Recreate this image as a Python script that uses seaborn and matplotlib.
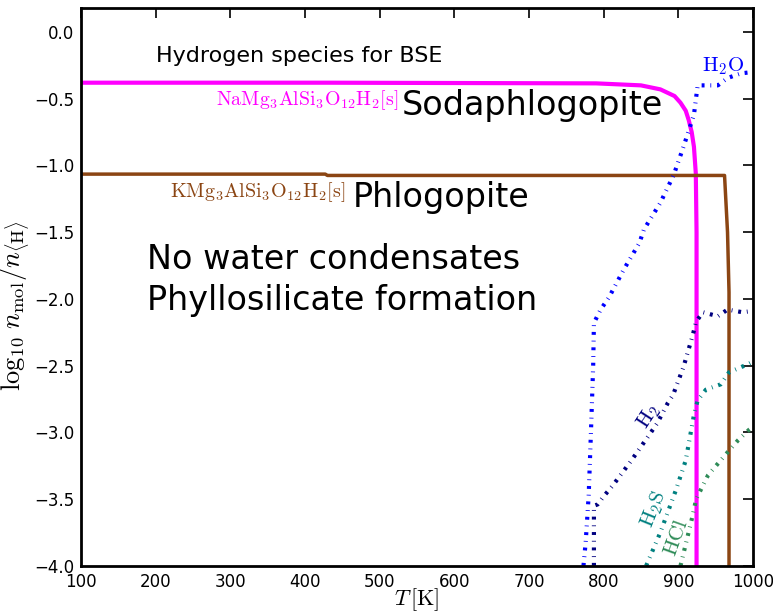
import matplotlib
matplotlib.use("Agg")
import matplotlib.pyplot as plt
import seaborn as sns
import pandas as pd

# Condensed phyllosilicates (solid lines)
T_soda = [100, 430, 790, 850, 876, 895, 903, 910, 914, 918, 921, 923.5, 924.5, 924.5]
n_soda = [-0.38, -0.38, -0.385, -0.40, -0.43, -0.48, -0.53, -0.59, -0.66, -0.75, -0.86, -1.06, -1.5, -4.0]

T_phlog = [100, 427, 430, 962, 966, 968, 968]
n_phlog = [-1.065, -1.065, -1.075, -1.075, -1.5, -1.95, -4.0]

# Gas-phase hydrogen carriers (dotted lines)
T_h2o = [773, 776, 780, 783, 786, 787, 796, 807, 827, 848, 854, 876, 894, 907, 921, 926, 953, 966, 984, 1000]
n_h2o = [-4.0, -3.82, -3.47, -3.0, -2.5, -2.18, -2.08, -1.99, -1.78, -1.58, -1.48, -1.28, -1.07, -0.86, -0.62,
         -0.40, -0.40, -0.345, -0.31, -0.30]

T_h2 = [787, 787, 792, 800, 812, 836, 861, 872, 886, 893, 907, 919, 924, 933, 953, 966, 986, 1000]
n_h2 = [-4.0, -3.55, -3.54, -3.48, -3.40, -3.22, -3.02, -2.93, -2.78, -2.72, -2.51, -2.28, -2.17, -2.10,
        -2.13, -2.08, -2.10, -2.09]

T_h2s = [857, 876, 897, 910, 921, 926, 937, 957, 968, 993, 1000]
n_h2s = [-4.0, -3.75, -3.43, -3.21, -2.87, -2.76, -2.68, -2.64, -2.55, -2.49, -2.47]

T_hcl = [903, 919, 924, 940, 966, 980, 995, 1000]
n_hcl = [-4.0, -3.63, -3.5, -3.32, -3.15, -3.06, -2.98, -2.96]

x_ticks = [100, 200, 300, 400, 500, 600, 700, 800, 900, 1000]
y_ticks = [0.0, -0.5, -1.0, -1.5, -2.0, -2.5, -3.0, -3.5, -4.0]

sns.set_theme(style="white")
plt.rcParams["font.family"] = ["DejaVu Sans"]
plt.rcParams["mathtext.fontset"] = "cm"
plt.rcParams["text.color"] = "black"
plt.rcParams["axes.labelcolor"] = "black"

fig = plt.figure(figsize=(7.73, 6.13), dpi=100)
ax = fig.add_axes([0.105, 0.077, 0.869, 0.910])

dotted = (0, (0.7, 1.4, 0.2, 1.4))


def draw(T, n, color, lw, ls="-"):
    df = pd.DataFrame({"T": T, "n": n})
    sns.lineplot(data=df, x="T", y="n", ax=ax, color=color, lw=lw, linestyle=ls,
                 estimator=None, sort=False)


draw(T_soda, n_soda, "#ff00ff", 3.0)
draw(T_phlog, n_phlog, "#8b4513", 2.5)
draw(T_h2o, n_h2o, "#0000ff", 3.0, dotted)
draw(T_h2, n_h2, "#000080", 3.0, dotted)
draw(T_h2s, n_h2s, "#008080", 3.0, dotted)
draw(T_hcl, n_hcl, "#2e8b57", 3.0, dotted)

ax.set_xlim(100, 1000)
ax.set_ylim(-4.0, 0.18)
ax.set_xticks(x_ticks)
ax.set_yticks(y_ticks)
ax.set_xticklabels([str(t) for t in x_ticks])
ax.set_yticklabels([f"{t:.1f}".replace("-", "\u2212") for t in y_ticks])
ax.tick_params(direction="in", length=7.5, width=1.2, top=True, right=True,
               labelsize=12, colors="black", pad=5)
for sp in ax.spines.values():
    sp.set_linewidth(2.0)
    sp.set_color("black")

ax.set_xlabel(r"$T\,[\mathrm{K}]$", fontsize=16, labelpad=-3)
ax.set_ylabel(r"$\log_{10}\,n_{\rm mol}/n_{\langle{\rm H}\rangle}$", fontsize=19)
ax.yaxis.set_label_coords(-0.072, 0.466)

# Annotations
ax.text(200, -0.222, "Hydrogen species for BSE", fontsize=16, va="baseline", ha="left")
ax.text(525, -0.547, r"$\mathrm{NaMg_3AlSi_3O_{12}H_2[s]}$", color="#ff00ff", fontsize=14.3,
        ha="right", va="baseline")
ax.text(529, -0.62, "Sodaphlogopite", fontsize=24, va="baseline", ha="left")
ax.text(454, -1.234, r"$\mathrm{KMg_3AlSi_3O_{12}H_2[s]}$", color="#8b4513", fontsize=14.5,
        ha="right", va="baseline")
ax.text(463.5, -1.31, "Phlogopite", fontsize=24, va="baseline", ha="left")
ax.text(188.5, -1.775, "No water condensates", fontsize=24, va="baseline", ha="left")
ax.text(188.5, -2.08, "Phyllosilicate formation", fontsize=24, va="baseline", ha="left")

ax.text(932, -0.297, r"$\mathrm{H_2O}$", color="#0000ff", fontsize=15, va="baseline", ha="left")
ax.text(860.5, -2.88, r"$\mathrm{H_2}$", color="#000080", fontsize=15, rotation=57,
        ha="center", va="center")
ax.text(867, -3.58, r"$\mathrm{H_2S}$", color="#008080", fontsize=15, rotation=68,
        ha="center", va="center")
ax.text(897, -3.79, r"$\mathrm{HCl}$", color="#2e8b57", fontsize=15, rotation=70,
        ha="center", va="center")

fig.savefig("out.png", dpi=100)
